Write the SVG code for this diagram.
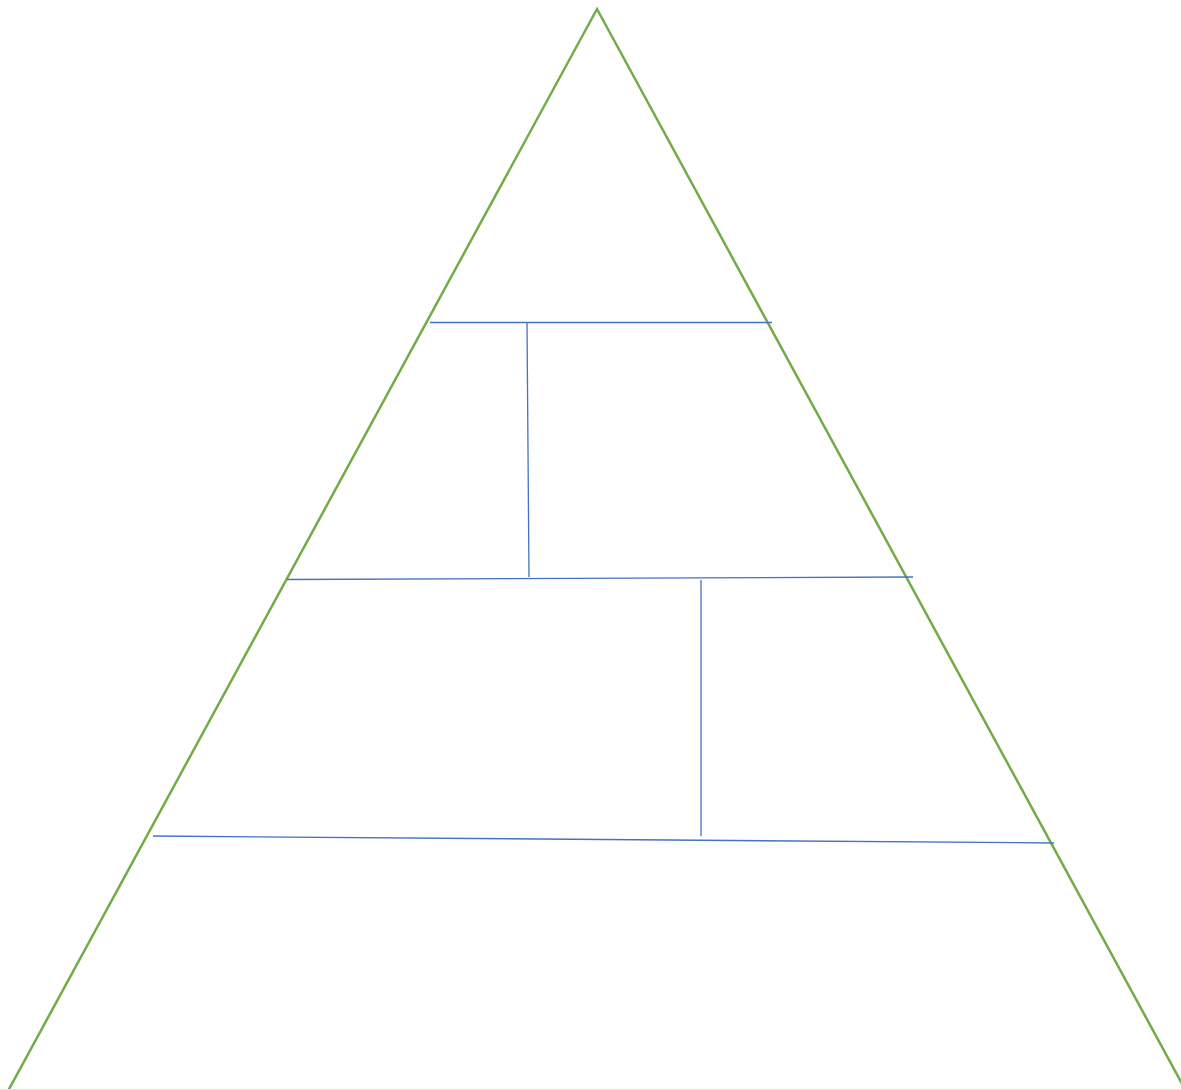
<svg xmlns="http://www.w3.org/2000/svg" width="1181" height="1090" viewBox="0 0 1181 1090">
<style>
.tri{fill:none;stroke:#70AD47;stroke-width:2.5;stroke-linejoin:miter}
.ln{stroke:#4472C4;stroke-width:1.3;fill:none}
</style>
<rect width="1181" height="1090" fill="#ffffff"/>
<g id="pyramid">
<polyline class="tri" points="8,1091 597,9 1186,1091"/>
<line x1="0" y1="1089.5" x2="1181" y2="1089.5" stroke="#dfe5d9" stroke-width="1.2"/>
</g>
<g id="connectors">
<line class="ln" x1="430" y1="322.5" x2="772" y2="322.5"/>
<line class="ln" x1="527" y1="323" x2="529" y2="577"/>
<line class="ln" x1="287" y1="579.5" x2="913" y2="577"/>
<line class="ln" x1="701" y1="580" x2="701" y2="836"/>
<line class="ln" x1="153" y1="836" x2="1054" y2="843"/>
</g>
</svg>
